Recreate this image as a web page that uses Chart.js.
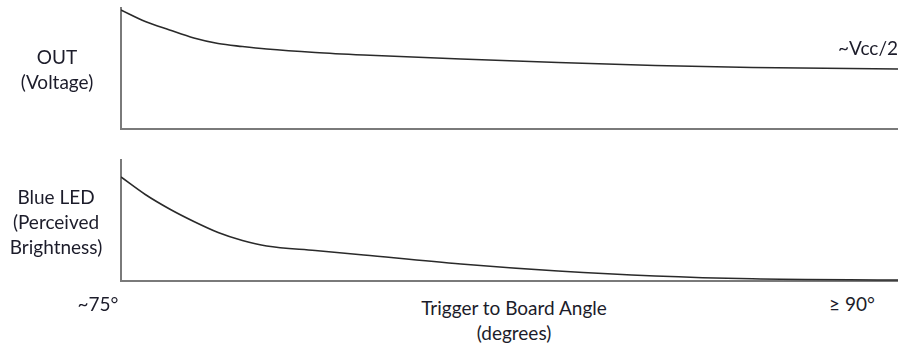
<!DOCTYPE html>
<html>
<head>
<meta charset="utf-8">
<script src="https://cdn.jsdelivr.net/npm/chart.js@4"></script>
<style>
  html, body { margin: 0; padding: 0; background: #fff; }
  #wrap { position: relative; width: 898px; height: 351px; overflow: hidden; }
  canvas { position: absolute; left: 0; }
  .lbl {
    position: absolute;
    font-family: Lato, "Open Sans", sans-serif;
    font-size: 19px;
    line-height: 25px;
    color: #1c1c2a;
    text-align: center;
    white-space: nowrap;
    transform: translate(-50%, -50%);
  }
</style>
</head>
<body>
<div id="wrap">
  <canvas id="outChart" width="898" height="140" style="top:0"></canvas>
  <canvas id="ledChart" width="898" height="140" style="top:150px"></canvas>
</div>
<script>
// Trigger-to-board angle, in degrees (x axis runs a bit past 90)
const angles = [75, 75.5, 76, 76.5, 77, 77.5, 78, 79, 80, 82, 84, 86, 88, 91];

// OUT voltage, relative units (settles at about Vcc/2)
const outVoltage = [119, 107.5, 99, 91, 85.5, 82.5, 80, 76.5, 74, 70, 66.5, 63.5, 61.5, 60];

// Blue LED perceived brightness, relative units
const ledBrightness = [104, 86.5, 72, 59.5, 48.5, 40.5, 35, 30.5, 26, 17, 10, 5, 2.2, 1];

// Text labels
const outLabel = ['OUT', '(Voltage)'];
const ledLabel = ['Blue LED', '(Perceived', 'Brightness)'];
const tickLabels = ['~75°', '≥ 90°'];
const axisTitle = ['Trigger to Board Angle', '(degrees)'];
const levelNote = '~Vcc/2';

function makePanel(canvasId, values, padding) {
    const ctx = document.getElementById(canvasId);
    return new Chart(ctx, {
        type: 'line',
        data: {
            datasets: [{
                data: angles.map((a, i) => ({ x: a, y: values[i] })),
                borderColor: '#2a2a2a',
                borderWidth: 1.6,
                pointRadius: 0,
                fill: false,
                cubicInterpolationMode: 'monotone'
            }]
        },
        options: {
            responsive: false,
            animation: false,
            layout: { padding: padding },
            plugins: {
                legend: { display: false },
                tooltip: { enabled: false }
            },
            scales: {
                x: {
                    type: 'linear',
                    min: 75,
                    max: 91,
                    grid: { display: false, drawTicks: false },
                    ticks: { display: false },
                    border: { color: '#7a7a7a', width: 2 },
                    afterFit: s => { s.height = 0; }
                },
                y: {
                    min: 0,
                    max: 121,
                    grid: { display: false, drawTicks: false },
                    ticks: { display: false },
                    border: { color: '#7a7a7a', width: 2 },
                    afterFit: s => { s.width = 0; }
                }
            }
        }
    });
}

makePanel('outChart', outVoltage, { left: 121, right: 0, top: 8, bottom: 11 });
makePanel('ledChart', ledBrightness, { left: 121, right: 0, top: 10, bottom: 9 });

// Place the text labels
function addLabel(lines, x, y) {
    const d = document.createElement('div');
    d.className = 'lbl';
    d.innerHTML = [].concat(lines).join('<br>');
    d.style.left = x + 'px';
    d.style.top = y + 'px';
    document.getElementById('wrap').appendChild(d);
}

addLabel(outLabel, 57, 69);
addLabel(ledLabel, 56, 221);
addLabel(tickLabels[0], 98, 303);
addLabel(tickLabels[1], 852, 303);
addLabel(axisTitle, 514, 320);
addLabel(levelNote, 868, 47);
</script>
</body>
</html>
